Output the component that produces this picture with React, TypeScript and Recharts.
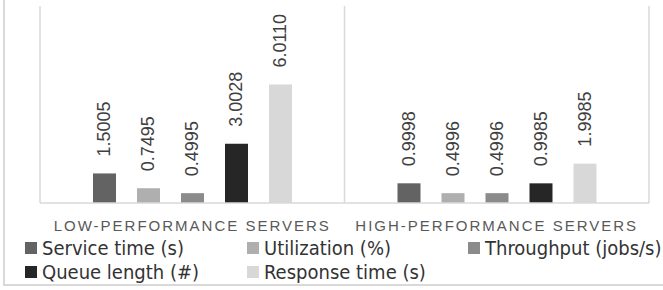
import React from 'react';
import {
  BarChart,
  Bar,
  XAxis,
  YAxis,
  CartesianGrid,
  Legend,
  LabelList,
} from 'recharts';

const categories = ['LOW-PERFORMANCE SERVERS', 'HIGH-PERFORMANCE SERVERS'];
const serviceTime = [1.5005, 0.9998];
const utilization = [0.7495, 0.4996];
const throughput = [0.4995, 0.4996];
const queueLength = [3.0028, 0.9985];
const responseTime = [6.011, 1.9985];

const series = [
  { key: 'Service time (s)', values: serviceTime, color: '#636363' },
  { key: 'Utilization (%)', values: utilization, color: '#afafaf' },
  { key: 'Throughput (jobs/s)', values: throughput, color: '#8b8b8b' },
  { key: 'Queue length (#)', values: queueLength, color: '#262626' },
  { key: 'Response time (s)', values: responseTime, color: '#d8d8d8' },
];

const data = categories.map((name, i) => {
  const row: Record<string, string | number> = { name };
  series.forEach((s) => {
    row[s.key] = s.values[i];
  });
  return row;
});

const gridColor = '#d9d9d9';
const narrow = "'Liberation Sans Narrow', 'DejaVu Sans Condensed', 'Liberation Sans', sans-serif";
const legendCols = [25, 247, 468];

const ValueLabel = (props: any) => {
  const { x, y, width, value } = props;
  const cx = x + width / 2;
  const ty = y - 17;
  return (
    <text
      x={cx}
      y={ty}
      transform={`rotate(-90 ${cx} ${ty})`}
      textAnchor="start"
      dominantBaseline="central"
      fontSize={18}
      fontFamily="'Liberation Sans', sans-serif"
      fill="#404040"
    >
      {Number(value).toFixed(4)}
    </text>
  );
};

const CategoryTick = (props: any) => {
  const { x, y, payload } = props;
  return (
    <text
      x={x}
      y={y + 20}
      textAnchor="middle"
      fontSize={15}
      fontFamily="'Liberation Sans', sans-serif"
      fill="#595959"
      style={{ letterSpacing: 2 }}
    >
      {payload.value}
    </text>
  );
};

// legend keeps the series order (recharts sorts payload by name otherwise)
const LegendBox = () => (
  <div style={{ position: 'relative', width: 663, height: 52 }}>
    {series.map((s, i) => (
      <div
        key={s.key}
        style={{
          position: 'absolute',
          left: legendCols[i % 3],
          top: 3 + Math.floor(i / 3) * 24,
          height: 24,
          display: 'flex',
          alignItems: 'center',
          fontFamily: narrow,
          fontSize: 20,
          color: '#333333',
          whiteSpace: 'nowrap',
        }}
      >
        <span
          style={{
            display: 'inline-block',
            width: 12,
            height: 12,
            background: s.color,
            marginRight: 5,
          }}
        />
        {s.key}
      </div>
    ))}
  </div>
);

export default function App() {
  return (
    <div style={{ position: 'absolute', left: 0, top: 0, width: 663, height: 290, background: '#fff' }}>
      <div
        style={{
          position: 'absolute',
          left: 3,
          top: 0,
          width: 670,
          height: 284,
          borderLeft: `2px solid ${gridColor}`,
          borderBottom: `2px solid ${gridColor}`,
        }}
      />
      <BarChart
        width={663}
        height={290}
        data={data}
        margin={{ top: 6, right: 14, left: 40, bottom: 5 }}
        barSize={23}
        barGap={21}
        style={{ position: 'absolute', left: 0, top: 0 }}
      >
        <CartesianGrid
          horizontal={false}
          stroke={gridColor}
          strokeWidth={1.5}
          verticalCoordinatesGenerator={({ offset }: any) => [
            offset.left,
            offset.left + offset.width / 2,
            offset.left + offset.width,
          ]}
        />
        <XAxis
          dataKey="name"
          height={30}
          axisLine={{ stroke: gridColor, strokeWidth: 1.5 }}
          tickLine={false}
          tick={<CategoryTick />}
          interval={0}
        />
        <YAxis hide domain={[0, 10]} width={0} />
        <Legend
          verticalAlign="bottom"
          content={<LegendBox />}
          wrapperStyle={{ left: 0, width: 663, bottom: 5 }}
        />
        {series.map((s) => (
          <Bar key={s.key} dataKey={s.key} fill={s.color} isAnimationActive={false}>
            <LabelList dataKey={s.key} content={<ValueLabel />} />
          </Bar>
        ))}
      </BarChart>
    </div>
  );
}
